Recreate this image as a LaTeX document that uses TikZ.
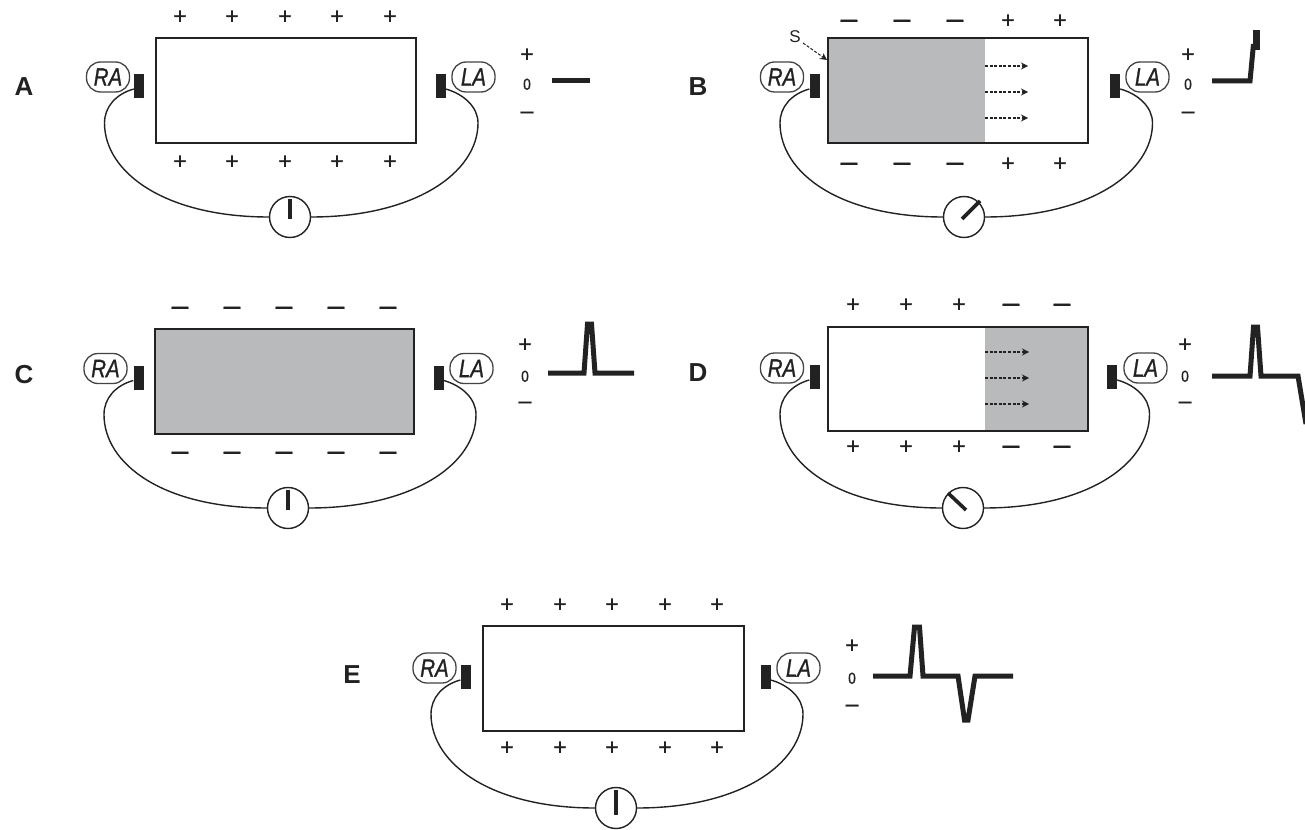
\documentclass[tikz,border=0pt]{standalone}
\usepackage{fontspec}
\setmainfont{Liberation Sans}
\newfontface\limbface[FakeBold=1.2]{Liberation Sans Italic}
\newfontface\signface[FakeBold=1.0]{Liberation Sans}
\usetikzlibrary{arrows.meta,calc}
\definecolor{ink}{HTML}{222222}
\definecolor{greyfill}{HTML}{B9BABC}
\newcommand{\cent}[2]{\raisebox{-#1em}[0pt][0pt]{#2}}
\newcommand{\pls}{\cent{.34}{+}}
\newcommand{\mns}{\cent{.28}{–}}
\tikzset{
  x=1pt,y=-1pt,
  every node/.style={inner sep=0pt,text=ink},
  heart/.style={draw=ink,line width=1.5pt},
  filled/.style={fill=greyfill},
  sgn/.style={font=\signface\fontsize{23}{23}\selectfont},
  bigm/.style={font=\signface\fontsize{30}{30}\selectfont},
  scalem/.style={font=\signface\fontsize{23}{23}\selectfont},
  zero/.style={font=\signface\fontsize{16}{16}\selectfont},
  panelname/.style={font=\bfseries\fontsize{26}{26}\selectfont},
  limb/.style={draw=ink!85,line width=1.3pt,rounded corners=14pt,minimum width=43pt,minimum height=30pt,
    font=\limbface\fontsize{25}{25}\selectfont},
  electrode/.style={fill=ink,minimum width=10pt,minimum height=24pt},
  meter/.style={circle,draw=ink,line width=1.4pt,fill=white,minimum size=41pt},
  wire/.style={draw=ink,line width=1.4pt},
  needle/.style={draw=ink,line width=3.6pt},
  trace/.style={draw=ink,line width=5pt,line join=miter,miter limit=6},
  wave/.style={draw=ink,line width=1.1pt,dash pattern=on 3pt off 1.6pt,-{Stealth[length=7pt,width=7pt]}}
}
% name, RA oval x, RA electrode x, LA electrode x, LA oval x, electrode y, meter x, meter y
\newcommand{\leads}[8]{
  \node[limb] (#1-ral) at (#2,#6-9) {\scalebox{.82}[1]{RA}};
  \node[limb] (#1-lal) at (#5,#6-9) {\scalebox{.82}[1]{LA}};
  \node[electrode] (#1-rae) at (#3,#6) {};
  \node[electrode] (#1-lae) at (#4,#6) {};
  \node[meter] (#1-m) at (#7,#8) {};
  \coordinate (#1-bl) at (#3-34.5,#6+37);
  \coordinate (#1-br) at (#4+37.5,#6+37);
  \draw[wire] ([yshift=-3pt]#1-rae.west) .. controls +(-18,5) and +(0,-16) .. (#1-bl)
     .. controls +(0,50) and +(-103,0) .. (#1-m.west);
  \draw[wire] ([yshift=-3pt]#1-lae.east) .. controls +(18,5) and +(0,-16) .. (#1-br)
     .. controls +(0,50) and +(103,0) .. (#1-m.east);
}
% name, x, y+, y0, y-
\newcommand{\scalemarks}[5]{
  \node[sgn] (#1-sp) at (#2,#3) {\pls};
  \node[zero] (#1-s0) at (#2,#4) {\scalebox{.85}[1]{\cent{.36}{0}}};
  \node[scalem] (#1-sm) at (#2,#5) {\mns};
}
\begin{document}
\begin{tikzpicture}
\useasboundingbox (0,0) rectangle (1305,829);

% ---- A
\node[panelname] (nA) at (24,86) {\cent{.36}{A}};
\node[heart,minimum width=260pt,minimum height=105pt] (ra) at (286,90.5) {};
\foreach \i/\x in {1/180,2/232,3/285,4/337,5/390}{
  \node[sgn] (at\i) at (\x,16) {\pls};
  \node[sgn] (ab\i) at (\x,161) {\pls};
}
\leads{a}{108}{139}{440.5}{473.5}{86}{290}{217}
\draw[needle] ([yshift=-3pt]a-m.north) -- ([yshift=-2pt]a-m.center);
\scalemarks{a}{527}{54}{84}{112}
\coordinate (ta0) at (552,81); \coordinate (ta1) at (590,81);
\draw[trace] (ta0) -- (ta1);

% ---- B
\node[panelname] (nB) at (698,86) {\cent{.36}{B}};
\fill[greyfill] (828,38) rectangle (985,143);
\node[heart,minimum width=260pt,minimum height=105pt] (rb) at (958,90.5) {};
\foreach \i/\x in {1/849,2/902,3/955}{
  \node[bigm] (bt\i) at (\x,20) {\mns};
  \node[bigm] (bb\i) at (\x,163) {\mns};
}
\foreach \i/\x in {4/1008,5/1060}{
  \node[sgn] (bt\i) at (\x,20) {\pls};
  \node[sgn] (bb\i) at (\x,163) {\pls};
}
\foreach \i/\y in {1/66,2/92,3/118}{
  \coordinate (bs\i) at (985,\y); \coordinate (be\i) at (1028,\y);
  \draw[wave] (bs\i) -- (be\i);
}
\node[font=\fontsize{17}{17}\selectfont] (S) at (795,36) {\cent{.36}{S}};
\coordinate (Send) at (827,60);
\draw[wave,line width=1pt] (803,43) -- (Send);
\leads{b}{782}{814.5}{1115}{1147.5}{86}{964}{217}
\coordinate (bn0) at (962,219); \coordinate (bn1) at (980,201);
\draw[needle] (bn0) -- (bn1);
\scalemarks{b}{1188}{54}{84}{112}
\draw[trace] (1212,81) -- (1250,81) -- (1253.5,44);
\draw[trace,line width=7.5pt] (1256.5,30) -- (1256.5,50);

% ---- C
\node[panelname] (nC) at (24,374) {\cent{.36}{C}};
\node[heart,filled,minimum width=259pt,minimum height=105pt] (rc) at (284.5,381.5) {};
\foreach \i/\x in {1/180,2/232,3/284,4/336,5/388}{
  \node[bigm] (ct\i) at (\x,307) {\mns};
  \node[bigm] (cb\i) at (\x,452) {\mns};
}
\leads{c}{105.5}{138.5}{438.5}{471.5}{377.5}{288}{508}
\draw[needle] ([yshift=-3pt]c-m.north) -- ([yshift=-2pt]c-m.center);
\scalemarks{c}{525}{344}{376}{402}
\draw[trace] (548,373) -- (584,373) -- (587.5,324) -- (591.5,324) -- (595,373) -- (634,373);

% ---- D
\node[panelname] (nD) at (698,372) {\cent{.36}{D}};
\fill[greyfill] (985,327) rectangle (1088,431);
\node[heart,minimum width=260pt,minimum height=104pt] (rd) at (958,379) {};
\foreach \i/\x in {1/853,2/906,3/959}{
  \node[sgn] (dt\i) at (\x,304) {\pls};
  \node[sgn] (db\i) at (\x,446) {\pls};
}
\foreach \i/\x in {4/1011,5/1062}{
  \node[bigm] (dt\i) at (\x,304) {\mns};
  \node[bigm] (db\i) at (\x,446) {\mns};
}
\foreach \i/\y in {1/352,2/378,3/404}{
  \coordinate (ds\i) at (985,\y); \coordinate (de\i) at (1029,\y);
  \draw[wave] (ds\i) -- (de\i);
}
\leads{d}{782}{814.5}{1112}{1145.5}{377}{963}{508}
\coordinate (dn0) at (966,510); \coordinate (dn1) at (948,493);
\draw[needle] (dn0) -- (dn1);
\scalemarks{d}{1185}{344}{376}{402}
\draw[trace] (1212,376) -- (1250,376) -- (1253.5,327) -- (1257.5,327) -- (1261,376) -- (1298,376) -- (1306,424);

% ---- E
\node[panelname] (nE) at (352,674) {\cent{.36}{E}};
\node[heart,minimum width=261pt,minimum height=105pt] (re) at (613.5,678.5) {};
\foreach \i/\x in {1/507,2/560,3/612,4/665,5/717}{
  \node[sgn] (et\i) at (\x,604) {\pls};
  \node[sgn] (eb\i) at (\x,747) {\pls};
}
\leads{e}{434.5}{465.5}{765.5}{798.5}{677}{616}{808}
\coordinate (en0) at (616,790); \coordinate (en1) at (616,815);
\draw[needle,line width=4.8pt] (en0) -- (en1);
\scalemarks{e}{852}{645}{678}{705}
\draw[trace] (873,676) -- (910,676) -- (914.5,627) -- (919.5,627) -- (923,676) -- (958,676) -- (964.5,720) -- (968,720) -- (975,676) -- (1013,676);
\end{tikzpicture}
\end{document}
